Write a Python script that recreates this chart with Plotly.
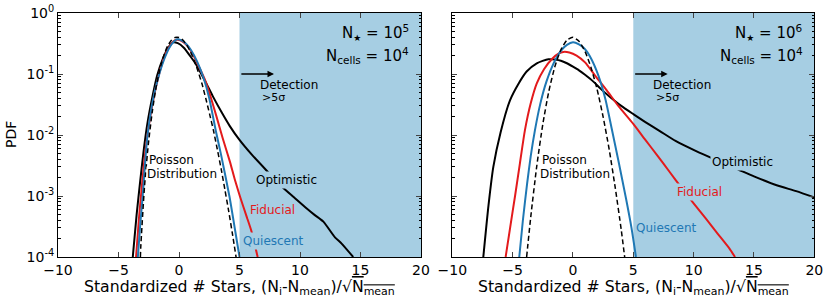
import numpy as np
import plotly.graph_objects as go

# ---------------- data ----------------
# Panel a: N_star = 1e5, N_cells = 1e4
x_poisson_a = [-3.19, -3.16, -2.85, -2.53, -2.21, -1.90, -1.58, -1.26, -0.95, -0.63, -0.32, 0.00,
               0.32, 0.63, 0.95, 1.26, 1.58, 1.90, 2.21, 2.53, 2.85, 3.16, 3.48, 3.79, 4.11, 4.43, 4.74]
pdf_poisson_a = [1.0e-4, 1.44e-4, 1.44e-3, 7.2e-3, 0.024, 0.060, 0.120, 0.199, 0.285, 0.356, 0.396, 0.396,
                 0.360, 0.300, 0.230, 0.165, 0.110, 0.069, 0.040, 0.022, 0.0118, 0.0059, 0.0028, 0.00128,
                 0.00056, 0.00023, 9.3e-5]

x_quiescent_a = [-3.40, -3.2, -3.0, -2.8, -2.6, -2.3, -2.0, -1.6, -1.2, -0.8, -0.4, -0.15, 0.2, 0.6, 1.0,
                 1.5, 2.0, 2.5, 3.03, 3.5, 4.17, 4.63, 5.0]
pdf_quiescent_a = [1e-4, 3.5e-4, 1.0e-3, 3.5e-3, 0.010, 0.026, 0.052, 0.105, 0.18, 0.27, 0.345, 0.37, 0.355,
                   0.31, 0.245, 0.16, 0.09, 0.04, 0.012, 4.5e-3, 9.8e-4, 2.8e-4, 1e-4]

x_fiducial_a = [-3.55, -3.3, -3.05, -2.8, -2.5, -2.1, -1.7, -1.3, -0.85, -0.45, -0.2, 0.2, 0.7, 1.2, 1.7,
                2.15, 2.6, 3.1, 3.6, 4.2, 4.6, 5.04, 5.59, 6.0, 6.5]
pdf_fiducial_a = [1e-4, 4.5e-4, 1.6e-3, 5e-3, 0.014, 0.04, 0.09, 0.17, 0.27, 0.345, 0.365, 0.35, 0.29, 0.2,
                  0.125, 0.08, 0.043, 0.020, 9e-3, 3.7e-3, 1.9e-3, 9.8e-4, 4.6e-4, 2.6e-4, 1e-4]

x_optimistic_a = [-3.82, -3.5, -3.2, -2.9, -2.6, -2.2, -1.8, -1.3, -0.9, -0.5, -0.1, 0.4, 0.9, 1.4, 2.15,
                  2.8, 3.5, 4.2, 5.0, 6.0, 7.25, 8.62, 9.5, 10.41, 11.2, 11.93, 12.89, 13.44, 14.4]
pdf_optimistic_a = [1e-4, 5e-4, 1.8e-3, 6e-3, 0.016, 0.042, 0.095, 0.185, 0.27, 0.33, 0.32, 0.27, 0.2, 0.145,
                    0.077, 0.043, 0.024, 0.014, 8.3e-3, 4.8e-3, 2.6e-3, 1.35e-3, 9.5e-4, 6.6e-4, 4.9e-4,
                    3.8e-4, 2.1e-4, 1.66e-4, 1e-4]

# Panel b: N_star = 1e6, N_cells = 1e4
x_poisson_b = [-3.84, -3.5, -3.0, -2.5, -2.0, -1.5, -1.0, -0.5, 0.0, 0.5, 1.0, 1.5, 2.0, 2.5, 3.0, 3.5,
               4.0, 4.31]
pdf_poisson_b = [1e-4, 4.5e-4, 3.1e-3, 0.015, 0.052, 0.132, 0.25, 0.36, 0.399, 0.344, 0.234, 0.127, 0.056,
                 0.0198, 5.8e-3, 1.38e-3, 2.8e-4, 9.1e-5]

x_quiescent_b = [-4.45, -4.15, -3.8, -3.5, -3.15, -2.7, -2.2, -1.6, -1.0, -0.5, 0.0, 0.5, 1.0, 1.5, 2.1,
                 2.7, 3.2, 3.8, 4.4, 4.85, 5.22]
pdf_quiescent_b = [1e-4, 4e-4, 1.6e-3, 4.5e-3, 0.012, 0.033, 0.075, 0.15, 0.24, 0.3, 0.33, 0.305, 0.255,
                   0.18, 0.095, 0.038, 0.013, 3.5e-3, 9e-4, 3e-4, 1e-4]

x_fiducial_b = [-5.58, -5.2, -4.8, -4.39, -3.98, -3.5, -3.0, -2.4, -1.7, -1.2, -0.8, -0.3, 0.3, 1.0, 1.82,
                2.8, 3.76, 5.0, 6.0, 7.0, 8.0, 9.0, 10.0, 11.0, 12.0, 13.0, 13.43]
pdf_fiducial_b = [1e-4, 3.1e-4, 1.0e-3, 3.5e-3, 0.012, 0.033, 0.07, 0.12, 0.18, 0.215, 0.23, 0.225, 0.2,
                  0.155, 0.095, 0.054, 0.030, 0.0152, 8.3e-3, 4.6e-3, 2.5e-3, 1.36e-3, 7.6e-4, 4.3e-4,
                  2.4e-4, 1.35e-4, 1e-4]

x_optimistic_b = [-7.43, -7.0, -6.6, -6.0, -5.22, -4.5, -3.84, -3.0, -2.04, -1.5, -1.0, -0.5, 0.0, 0.5,
                  1.0, 1.69, 2.3, 3.07, 4.0, 5.0, 6.0, 7.2, 8.5, 10.25, 12.0, 13.56, 15.0, 16.88, 18.5, 20.0]
pdf_optimistic_b = [1e-4, 7e-4, 3e-3, 0.011, 0.037, 0.07, 0.11, 0.15, 0.175, 0.172, 0.165, 0.15, 0.132,
                    0.115, 0.097, 0.075, 0.057, 0.042, 0.030, 0.022, 0.0163, 0.0116, 8e-3, 5.4e-3, 3.8e-3,
                    2.8e-3, 2.1e-3, 1.5e-3, 1.2e-3, 9.5e-4]

x_tick_vals = [-10, -5, 0, 5, 10, 15, 20]
y_tick_vals = [1e-4, 1e-3, 1e-2, 1e-1, 1e0]
y_tick_text = ["10<sup>-4</sup>", "10<sup>-3</sup>", "10<sup>-2</sup>", "10<sup>-1</sup>", "10<sup>0</sup>"]
n_star_text = ["10<sup>5</sup>", "10<sup>6</sup>"]
detection_sigma = 5

# ---------------- styling ----------------
FONT = "DejaVu Sans"
SHADE = "#a6cee3"
BLUE = "#1f78b4"
RED = "#e31a1c"
BLACK = "black"

fig = go.Figure()

panels = [
    ("x", "y", x_poisson_a, pdf_poisson_a, x_quiescent_a, pdf_quiescent_a, x_fiducial_a, pdf_fiducial_a,
     x_optimistic_a, pdf_optimistic_a),
    ("x2", "y2", x_poisson_b, pdf_poisson_b, x_quiescent_b, pdf_quiescent_b, x_fiducial_b, pdf_fiducial_b,
     x_optimistic_b, pdf_optimistic_b),
]

for (xr, yr, xp, yp, xq, yq, xf, yf, xo, yo) in panels:
    fig.add_trace(go.Scatter(x=xo, y=yo, xaxis=xr, yaxis=yr, mode="lines",
                             line=dict(color=BLACK, width=2, shape="spline", smoothing=0.6),
                             showlegend=False, hoverinfo="skip"))
    fig.add_trace(go.Scatter(x=xf, y=yf, xaxis=xr, yaxis=yr, mode="lines",
                             line=dict(color=RED, width=2, shape="spline", smoothing=0.6),
                             showlegend=False, hoverinfo="skip"))
    fig.add_trace(go.Scatter(x=xq, y=yq, xaxis=xr, yaxis=yr, mode="lines",
                             line=dict(color=BLUE, width=2, shape="spline", smoothing=0.6),
                             showlegend=False, hoverinfo="skip"))
    fig.add_trace(go.Scatter(x=xp, y=yp, xaxis=xr, yaxis=yr, mode="lines",
                             line=dict(color=BLACK, width=1.5, dash="5px,3px", shape="spline", smoothing=0.6),
                             showlegend=False, hoverinfo="skip"))
    # detection region
    fig.add_shape(type="rect", xref=xr, yref=f"{yr} domain", x0=detection_sigma, x1=x_tick_vals[-1],
                  y0=0, y1=1, fillcolor=SHADE, line=dict(width=0), layer="below")

minor_vals = [m * 10.0 ** e for e in range(-4, 0) for m in range(2, 10)]

axis_common = dict(showline=True, linecolor="black", linewidth=1, mirror="allticks", ticks="inside",
                   showgrid=False, zeroline=False, tickfont=dict(family=FONT, size=14, color="black"))

xdoms = [[58 / 830, 421 / 830], [452.3 / 830, 814.3 / 830]]
ydom = [48 / 305, 292 / 305]

fig.update_layout(
    width=830, height=305, margin=dict(l=0, r=0, t=0, b=0),
    paper_bgcolor="white", plot_bgcolor="white",
    font=dict(family=FONT, size=12, color="black"),
    xaxis=dict(domain=xdoms[0], range=[-10, 20], tickvals=x_tick_vals, ticklen=5, anchor="y",
               automargin=False, **axis_common),
    yaxis=dict(domain=ydom, type="log", range=[-4, 0], tickvals=y_tick_vals, ticktext=y_tick_text,
               ticklen=5, anchor="x", automargin=False,
               minor=dict(tickvals=minor_vals, ticks="inside", ticklen=2.5, tickcolor="black"),
               **axis_common),
    xaxis2=dict(domain=xdoms[1], range=[-10, 20], tickvals=x_tick_vals, ticklen=5, anchor="y2",
                automargin=False, **axis_common),
    yaxis2=dict(domain=ydom, type="log", range=[-4, 0], tickvals=y_tick_vals, showticklabels=False,
                ticklen=5, anchor="x2", automargin=False,
                minor=dict(tickvals=minor_vals, ticks="inside", ticklen=2.5, tickcolor="black"),
                **axis_common),
)

annotations = []
label_pos = [
    # xref, yref, poisson, distribution, optimistic, fiducial, quiescent, nstar text
    ("x", "y", (-2.57, -2.41), (-2.74, -2.64), (8.9, -2.74), (7.7, -3.23), (7.8, -3.73), n_star_text[0]),
    ("x2", "y2", (-2.62, -2.41), (-2.78, -2.64), (14.06, -2.44), (10.52, -2.94), (7.76, -3.53), n_star_text[1]),
]
for xr, yr, pp, pd, po, pf, pq, ns in label_pos:
    annotations += [
        dict(xref=xr, yref=yr, x=pp[0], y=pp[1], text="Poisson", showarrow=False, xanchor="left",
             yanchor="middle", bgcolor="white", borderpad=0, font=dict(size=12)),
        dict(xref=xr, yref=yr, x=pd[0], y=pd[1], text="Distribution", showarrow=False, xanchor="left",
             yanchor="middle", bgcolor="white", borderpad=0, font=dict(size=12)),
        dict(xref=xr, yref=yr, x=po[0], y=po[1], text="Optimistic", showarrow=False, xanchor="center",
             yanchor="middle", bgcolor=SHADE, borderpad=1, font=dict(size=12, color=BLACK)),
        dict(xref=xr, yref=yr, x=pf[0], y=pf[1], text="Fiducial", showarrow=False, xanchor="center",
             yanchor="middle", bgcolor=SHADE, borderpad=1, font=dict(size=12, color=RED)),
        dict(xref=xr, yref=yr, x=pq[0], y=pq[1], text="Quiescent", showarrow=False, xanchor="center",
             yanchor="middle", bgcolor=SHADE, borderpad=1, font=dict(size=12, color=BLUE)),
        dict(xref=xr, yref=yr, x=7.85, y=-1.0, ax=5.03, ay=-1.0, axref=xr, ayref=yr, text="",
             showarrow=True, arrowhead=2, arrowsize=1, arrowwidth=1.3, arrowcolor="black"),
        dict(xref=xr, yref=yr, x=6.5, y=-1.186, text="Detection", showarrow=False, xanchor="left",
             yanchor="middle", font=dict(size=12)),
        dict(xref=xr, yref=yr, x=6.72, y=-1.38, text="&gt;5σ", showarrow=False, xanchor="left",
             yanchor="middle", font=dict(size=11)),
        dict(xref=xr, yref=yr, x=19.2, y=-0.32,
             text="N<sub><span style='font-size:9px'>★</span></sub> = " + ns, showarrow=False,
             xanchor="right", yanchor="middle", font=dict(size=15)),
        dict(xref=xr, yref=yr, x=19.2, y=-0.70, text="N<sub>cells</sub> = 10<sup>4</sup>", showarrow=False,
             xanchor="right", yanchor="middle", font=dict(size=15)),
    ]

xtitle = ("Standardized # Stars, (N<sub>i</sub>-N<sub>mean</sub>)/√"
          "<span style='text-decoration:overline'>N<sub>mean</sub></span>")
for dom in xdoms:
    annotations.append(dict(xref="paper", yref="paper", x=(dom[0] + dom[1]) / 2, y=(305 - 287) / 305,
                            text=xtitle, showarrow=False, xanchor="center", yanchor="middle",
                            font=dict(size=15.7)))
annotations.append(dict(xref="paper", yref="paper", x=11 / 830, y=(305 - 135) / 305, text="PDF",
                        textangle=-90, showarrow=False, xanchor="center", yanchor="middle",
                        font=dict(size=14)))

fig.update_layout(annotations=annotations)
fig.write_html("out.html", config={"displayModeBar": False},
               post_script="document.body.style.margin='0';document.body.style.overflow='hidden';")
